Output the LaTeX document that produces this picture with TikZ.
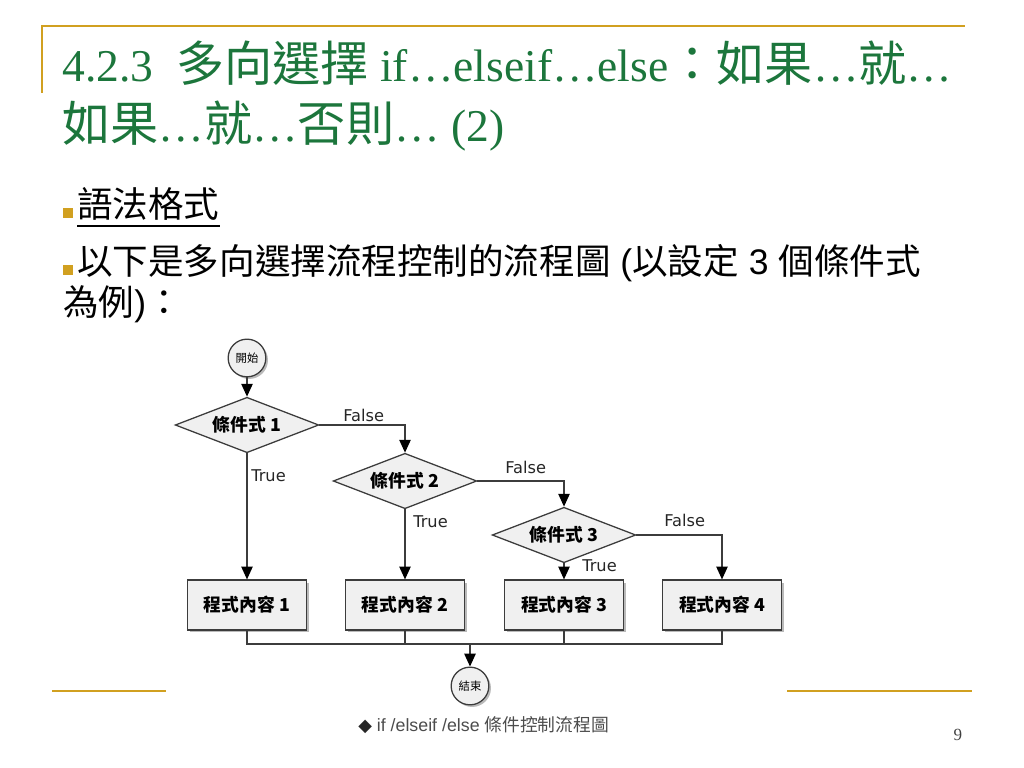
\documentclass[tikz,border=0pt]{standalone}
\usepackage{fontspec}
\setmainfont{Liberation Sans}
\newfontfamily\cjk{Noto Sans CJK TC}
\newfontfamily\serif{Liberation Serif}
\newfontfamily\symb{DejaVu Sans}
\usetikzlibrary{shapes.geometric,arrows.meta,shadows,calc}
\definecolor{gold}{RGB}{209,160,32}
\definecolor{titlegreen}{RGB}{28,118,60}
\definecolor{boxgray}{RGB}{240,240,240}
\definecolor{linegray}{RGB}{60,60,60}
\newcommand\cjkt{\cjk\fontsize{33.9}{40}\selectfont}
\tikzset{
  title/.style={anchor=base west,inner sep=0pt,text=titlegreen,font=\serif\fontsize{32}{38}\selectfont},
  body/.style={anchor=base west,inner sep=0pt,text=black,font=\fontsize{25}{30}\selectfont},
  bullet/.style={anchor=south west,fill=gold,minimum size=7pt,inner sep=0pt},
  goldline/.style={draw=gold,line width=1.6pt},
  decision/.style={diamond,draw=linegray,line width=0.9pt,fill=boxgray,aspect=2.5,inner sep=0pt,
    minimum width=101pt,minimum height=39pt,font=\cjk\bfseries\fontsize{12.5}{14}\selectfont},
  process/.style={rectangle,draw=linegray,line width=1pt,fill=boxgray,minimum width=84pt,minimum height=35pt,
    drop shadow={shadow xshift=1.8pt,shadow yshift=-1.8pt,fill=black!45,opacity=.6},
    font=\cjk\bfseries\fontsize{12.5}{14}\selectfont},
  terminal/.style={circle,draw=linegray,line width=0.9pt,fill=boxgray,minimum size=26.5pt,inner sep=0pt,
    drop shadow={shadow xshift=1.5pt,shadow yshift=-1.5pt,fill=black!45,opacity=.6},
    font=\cjk\fontsize{8}{9}\selectfont},
  flow/.style={draw=linegray,line width=0.9pt,-{Triangle[width=8pt,length=9pt,color=black]}},
  mergeline/.style={draw=linegray,line width=0.9pt},
  lbl/.style={anchor=base west,inner sep=0pt,text=black!85,font=\symb\fontsize{11.4}{13}\selectfont}
}
\begin{document}
\begin{tikzpicture}[x=0.703125pt,y=-0.703125pt]
  \useasboundingbox (0,0) rectangle (1024,768);
  \draw[goldline] (42,93) -- (42,26) -- (965,26);
  \draw[goldline] (52,691) -- (166,691);
  \draw[goldline] (787,691) -- (972,691);

  \node[title] (title1) at (62,82) {4.2.3\ \ {\cjkt 多向選擇} if…elseif…else{\cjkt ：如果}…{\cjkt 就}…};
  \node[title] (title2) at (62,142) {{\cjkt 如果}…{\cjkt 就}…{\cjkt 否則}… (2)};

  \node[bullet] (bul1) at (63,218) {};
  \node[body] (syntax) at (77,218) {\cjk 語法格式};
  \draw[line width=1.1pt] ($(syntax.base west)+(0,8)$) -- ($(syntax.base east)+(0,8)$);
  \node[bullet] (bul2) at (63,275) {};
  \node[body] (intro) at (77,275) {{\cjk 以下是多向選擇流程控制的流程圖} ({\cjk 以設定} 3 {\cjk 個條件式}};
  \node[body] (intro2) at (63,316) {{\cjk 為例}){\cjk ：}};

  \node[terminal] (start) at (247,358) {開始};
  \node[decision] (c1) at (247,425) {條件式 1};
  \node[decision] (c2) at (405,481) {條件式 2};
  \node[decision] (c3) at (564,535) {條件式 3};
  \foreach \x/\i in {247/1,405/2,564/3,722/4}
    \node[process] (p\i) at (\x,605) {程式內容 \i};
  \node[terminal] (stop) at (470,686) {結束};
  \coordinate (merge) at (470,644);

  \draw[flow] (start) -- (c1);
  \draw[flow] (c1) -- (p1);
  \draw[flow] (c2) -- (p2);
  \draw[flow] (c3) -- (p3);
  \draw[flow] (c1.east) -| (c2.north);
  \draw[flow] (c2.east) -| (c3.north);
  \draw[flow] (c3.east) -| (p4.north);
  \foreach \i in {1,...,4}
    \draw[mergeline] (p\i.south) |- (merge);
  \draw[flow] (merge) -- (stop);

  \node[lbl] (false1) at (343,421) {False};
  \node[lbl] (false2) at (505,473) {False};
  \node[lbl] (false3) at (664,526) {False};
  \node[lbl] (true1) at (251,481) {True};
  \node[lbl] (true2) at (413,527) {True};
  \node[lbl] (true3) at (582,571) {True};

  \node[anchor=base west,inner sep=0pt,text=black!70,font=\fontsize{12.5}{14}\selectfont] (caption) at (358,731)
    {{\symb\color{black!85}◆} if /elseif /else {\cjk 條件控制流程圖}};
  \node[text=black!75,font=\serif\fontsize{12}{14}\selectfont] (pagenum) at (958,735) {9};
\end{tikzpicture}
\end{document}
